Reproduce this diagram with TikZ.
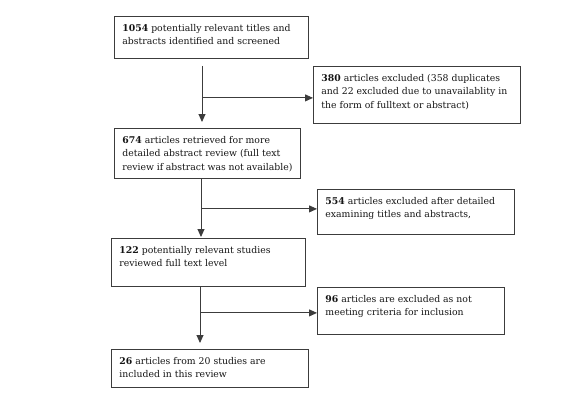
\documentclass[tikz,border=0pt]{standalone}
\usepackage{fontspec}
\setmainfont{DejaVu Serif}
\usetikzlibrary{arrows.meta}
\definecolor{linegray}{HTML}{3C3C3C}
\definecolor{txtcol}{HTML}{151515}
\newcommand{\bxt}[3]{\parbox[t][#2pt][t]{#1pt}{\rule{0pt}{15pt}#3}}
\begin{document}
\begin{tikzpicture}[x=1pt,y=-1pt,
  box/.style={draw=linegray, line width=0.9pt, inner xsep=8pt, inner ysep=0pt, anchor=north west, text=txtcol, font=\fontsize{9.3}{13.5}\selectfont},
  arr/.style={draw=linegray, line width=0.9pt, -{Triangle[length=8pt,width=7pt]}}]
\useasboundingbox (0,0) rectangle (578,416);

\node[box] (b1) at (114,16) {\bxt{178}{42}{\textbf{1054} potentially relevant titles and\\abstracts identified and screened}};
\node[box] (e1) at (313,66) {\bxt{191}{57}{\textbf{380} articles excluded (358 duplicates\\and 22 excluded due to unavailablity in\\the form of fulltext or abstract)}};
\node[box] (b2) at (114,128) {\bxt{170}{50}{\textbf{674} articles retrieved for more\\detailed abstract review (full text\\review if abstract was not available)}};
\node[box] (e2) at (317,189) {\bxt{181}{45}{\textbf{554} articles excluded after detailed\\examining titles and abstracts,}};
\node[box] (b3) at (111,238) {\bxt{178}{48}{\textbf{122} potentially relevant studies\\reviewed full text level}};
\node[box] (e3) at (317,287) {\bxt{171}{47}{\textbf{96} articles are excluded as not\\meeting criteria for inclusion}};
\node[box] (b4) at (111,349) {\bxt{181}{38}{\textbf{26} articles from 20 studies are\\included in this review}};

% stage 1
\coordinate (s1) at ([xshift=88pt,yshift=-7pt]b1.south west);
\path (s1 |- b2.north) coordinate (t1);
\coordinate (j1) at ([yshift=-32pt]s1);
\draw[arr] (s1) -- ([yshift=6pt]t1);
\draw[arr] (j1) -- (j1 -| e1.west);
% stage 2
\coordinate (s2) at ([xshift=87pt]b2.south west);
\path (s2 |- b3.north) coordinate (t2);
\coordinate (j2) at ([yshift=-30pt]s2);
\draw[arr] (s2) -- ([yshift=1pt]t2);
\draw[arr] (j2) -- (j2 -| e2.west);
% stage 3
\coordinate (s3) at ([xshift=89pt]b3.south west);
\path (s3 |- b4.north) coordinate (t3);
\coordinate (j3) at ([yshift=-26pt]s3);
\draw[arr] (s3) -- ([yshift=6pt]t3);
\draw[arr] (j3) -- (j3 -| e3.west);
\end{tikzpicture}
\end{document}
